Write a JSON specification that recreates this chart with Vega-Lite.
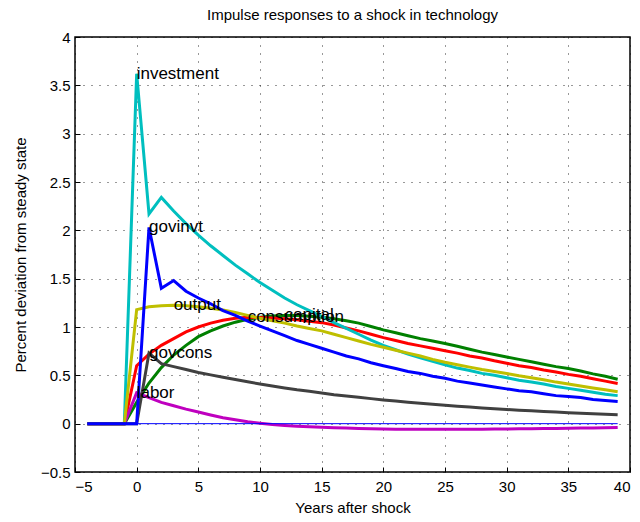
{
  "$schema": "https://vega.github.io/schema/vega-lite/v6.json",
  "width": 555,
  "height": 435,
  "autosize": {"type": "none"},
  "padding": {"left": 75, "top": 37, "right": 10, "bottom": 50},
  "background": "white",
  "title": {"text": "Impulse responses to a shock in technology", "fontSize": 15, "fontWeight": "normal", "font": "Liberation Sans", "color": "black", "offset": 7},
  "config": {
    "view": {"stroke": "black", "strokeWidth": 1.5},
    "axis": {
      "labelFont": "Liberation Sans", "labelFontSize": 15, "labelColor": "black",
      "titleFont": "Liberation Sans", "titleFontSize": 15, "titleFontWeight": "normal", "titleColor": "black",
      "domain": false, "grid": true, "gridColor": "black", "gridDash": [1, 7], "gridOpacity": 0.8, "gridWidth": 1,
      "ticks": true, "tickColor": "black", "tickSize": -5, "tickWidth": 1
    }
  },
  "datasets": {
    "irf": [
      {"t": -4, "capital": 0, "consumption": 0, "investment": 0, "labor": 0, "output": 0, "govcons": 0, "govinvt": 0},
      {"t": -3, "capital": 0, "consumption": 0, "investment": 0, "labor": 0, "output": 0, "govcons": 0, "govinvt": 0},
      {"t": -2, "capital": 0, "consumption": 0, "investment": 0, "labor": 0, "output": 0, "govcons": 0, "govinvt": 0},
      {"t": -1, "capital": 0, "consumption": 0, "investment": 0, "labor": 0, "output": 0, "govcons": 0, "govinvt": 0},
      {"t": 0, "capital": 0.22, "consumption": 0.6, "investment": 3.62, "labor": 0.32, "output": 1.18, "govcons": 0, "govinvt": 0},
      {"t": 1, "capital": 0.42, "consumption": 0.72, "investment": 2.17, "labor": 0.27, "output": 1.21, "govcons": 0.73, "govinvt": 2.03},
      {"t": 2, "capital": 0.58, "consumption": 0.81, "investment": 2.34, "labor": 0.22, "output": 1.22, "govcons": 0.62, "govinvt": 1.4},
      {"t": 3, "capital": 0.71, "consumption": 0.88, "investment": 2.2, "labor": 0.185, "output": 1.225, "govcons": 0.59, "govinvt": 1.48},
      {"t": 4, "capital": 0.81, "consumption": 0.95, "investment": 2.07, "labor": 0.15, "output": 1.22, "govcons": 0.56, "govinvt": 1.37},
      {"t": 5, "capital": 0.9, "consumption": 1.0, "investment": 1.95, "labor": 0.12, "output": 1.21, "govcons": 0.53, "govinvt": 1.3},
      {"t": 6, "capital": 0.96, "consumption": 1.04, "investment": 1.84, "labor": 0.09, "output": 1.195, "govcons": 0.505, "govinvt": 1.24},
      {"t": 7, "capital": 1.01, "consumption": 1.07, "investment": 1.74, "labor": 0.062, "output": 1.175, "govcons": 0.48, "govinvt": 1.17},
      {"t": 8, "capital": 1.05, "consumption": 1.09, "investment": 1.64, "labor": 0.04, "output": 1.15, "govcons": 0.456, "govinvt": 1.12},
      {"t": 9, "capital": 1.08, "consumption": 1.1, "investment": 1.55, "labor": 0.02, "output": 1.12, "govcons": 0.433, "govinvt": 1.06},
      {"t": 10, "capital": 1.1, "consumption": 1.098, "investment": 1.46, "labor": 0.005, "output": 1.09, "govcons": 0.41, "govinvt": 1.01},
      {"t": 11, "capital": 1.115, "consumption": 1.093, "investment": 1.38, "labor": -0.008, "output": 1.065, "govcons": 0.39, "govinvt": 0.96},
      {"t": 12, "capital": 1.12, "consumption": 1.085, "investment": 1.3, "labor": -0.018, "output": 1.04, "govcons": 0.37, "govinvt": 0.91},
      {"t": 13, "capital": 1.118, "consumption": 1.075, "investment": 1.23, "labor": -0.026, "output": 1.01, "govcons": 0.35, "govinvt": 0.86},
      {"t": 14, "capital": 1.11, "consumption": 1.06, "investment": 1.17, "labor": -0.032, "output": 0.985, "govcons": 0.335, "govinvt": 0.82},
      {"t": 15, "capital": 1.1, "consumption": 1.045, "investment": 1.11, "labor": -0.037, "output": 0.96, "govcons": 0.318, "govinvt": 0.78},
      {"t": 16, "capital": 1.085, "consumption": 1.02, "investment": 1.045, "labor": -0.042, "output": 0.925, "govcons": 0.3, "govinvt": 0.74},
      {"t": 17, "capital": 1.065, "consumption": 0.99, "investment": 0.985, "labor": -0.046, "output": 0.89, "govcons": 0.287, "govinvt": 0.7},
      {"t": 18, "capital": 1.04, "consumption": 0.96, "investment": 0.925, "labor": -0.05, "output": 0.855, "govcons": 0.273, "govinvt": 0.67},
      {"t": 19, "capital": 1.005, "consumption": 0.925, "investment": 0.865, "labor": -0.053, "output": 0.82, "govcons": 0.259, "govinvt": 0.63},
      {"t": 20, "capital": 0.97, "consumption": 0.89, "investment": 0.81, "labor": -0.055, "output": 0.79, "govcons": 0.246, "govinvt": 0.6},
      {"t": 21, "capital": 0.94, "consumption": 0.86, "investment": 0.765, "labor": -0.057, "output": 0.76, "govcons": 0.234, "govinvt": 0.57},
      {"t": 22, "capital": 0.91, "consumption": 0.83, "investment": 0.72, "labor": -0.058, "output": 0.73, "govcons": 0.222, "govinvt": 0.54},
      {"t": 23, "capital": 0.88, "consumption": 0.805, "investment": 0.68, "labor": -0.059, "output": 0.7, "govcons": 0.211, "govinvt": 0.52},
      {"t": 24, "capital": 0.855, "consumption": 0.78, "investment": 0.645, "labor": -0.059, "output": 0.665, "govcons": 0.2, "govinvt": 0.49},
      {"t": 25, "capital": 0.83, "consumption": 0.755, "investment": 0.61, "labor": -0.059, "output": 0.635, "govcons": 0.19, "govinvt": 0.47},
      {"t": 26, "capital": 0.8, "consumption": 0.73, "investment": 0.575, "labor": -0.059, "output": 0.61, "govcons": 0.181, "govinvt": 0.44},
      {"t": 27, "capital": 0.77, "consumption": 0.7, "investment": 0.55, "labor": -0.058, "output": 0.585, "govcons": 0.172, "govinvt": 0.42},
      {"t": 28, "capital": 0.74, "consumption": 0.68, "investment": 0.52, "labor": -0.057, "output": 0.56, "govcons": 0.163, "govinvt": 0.4},
      {"t": 29, "capital": 0.715, "consumption": 0.65, "investment": 0.5, "labor": -0.056, "output": 0.54, "govcons": 0.155, "govinvt": 0.38},
      {"t": 30, "capital": 0.69, "consumption": 0.625, "investment": 0.475, "labor": -0.055, "output": 0.52, "govcons": 0.147, "govinvt": 0.36},
      {"t": 31, "capital": 0.665, "consumption": 0.6, "investment": 0.45, "labor": -0.053, "output": 0.495, "govcons": 0.14, "govinvt": 0.34},
      {"t": 32, "capital": 0.64, "consumption": 0.58, "investment": 0.43, "labor": -0.052, "output": 0.475, "govcons": 0.133, "govinvt": 0.33},
      {"t": 33, "capital": 0.615, "consumption": 0.555, "investment": 0.41, "labor": -0.05, "output": 0.455, "govcons": 0.126, "govinvt": 0.31},
      {"t": 34, "capital": 0.59, "consumption": 0.535, "investment": 0.385, "labor": -0.049, "output": 0.43, "govcons": 0.12, "govinvt": 0.29},
      {"t": 35, "capital": 0.57, "consumption": 0.51, "investment": 0.365, "labor": -0.047, "output": 0.41, "govcons": 0.114, "govinvt": 0.28},
      {"t": 36, "capital": 0.545, "consumption": 0.49, "investment": 0.345, "labor": -0.045, "output": 0.39, "govcons": 0.108, "govinvt": 0.27},
      {"t": 37, "capital": 0.515, "consumption": 0.465, "investment": 0.325, "labor": -0.044, "output": 0.37, "govcons": 0.103, "govinvt": 0.25},
      {"t": 38, "capital": 0.49, "consumption": 0.44, "investment": 0.305, "labor": -0.042, "output": 0.35, "govcons": 0.098, "govinvt": 0.24},
      {"t": 39, "capital": 0.46, "consumption": 0.415, "investment": 0.29, "labor": -0.04, "output": 0.33, "govcons": 0.093, "govinvt": 0.23}
    ],
    "labels": [
      {"t": 0, "v": 3.62, "name": "investment"},
      {"t": 1, "v": 2.03, "name": "govinvt"},
      {"t": 3, "v": 1.225, "name": "output"},
      {"t": 9, "v": 1.1, "name": "consumption"},
      {"t": 12, "v": 1.12, "name": "capital"},
      {"t": 1, "v": 0.73, "name": "govcons"},
      {"t": 0, "v": 0.32, "name": "labor"}
    ],
    "zero": [
      {"t": -4, "v": 0},
      {"t": 39, "v": 0}
    ]
  },
  "layer": [
    {
      "data": {"name": "irf"},
      "mark": {"type": "line", "color": "#008000", "strokeWidth": 3},
      "encoding": {
        "x": {"field": "t", "type": "quantitative", "scale": {"domain": [-5, 40], "nice": false, "zero": false},
              "axis": {"orient": "bottom", "values": [-5, 0, 5, 10, 15, 20, 25, 30, 35, 40], "title": "Years after shock", "labelPadding": 12, "titlePadding": 6}},
        "y": {"field": "capital", "type": "quantitative", "scale": {"domain": [-0.5, 4], "nice": false, "zero": false},
              "axis": {"orient": "left", "values": [-0.5, 0, 0.5, 1, 1.5, 2, 2.5, 3, 3.5, 4], "format": ".1~f", "title": "Percent deviation from steady state", "labelPadding": 10, "titlePadding": 12}}
      }
    },
    {
      "data": {"name": "irf"},
      "mark": {"type": "line", "color": "#ff0000", "strokeWidth": 3},
      "encoding": {"x": {"field": "t", "type": "quantitative"}, "y": {"field": "consumption", "type": "quantitative"}}
    },
    {
      "data": {"name": "irf"},
      "mark": {"type": "line", "color": "#00bfbf", "strokeWidth": 3},
      "encoding": {"x": {"field": "t", "type": "quantitative"}, "y": {"field": "investment", "type": "quantitative"}}
    },
    {
      "data": {"name": "irf"},
      "mark": {"type": "line", "color": "#bf00bf", "strokeWidth": 3},
      "encoding": {"x": {"field": "t", "type": "quantitative"}, "y": {"field": "labor", "type": "quantitative"}}
    },
    {
      "data": {"name": "irf"},
      "mark": {"type": "line", "color": "#bfbf00", "strokeWidth": 3},
      "encoding": {"x": {"field": "t", "type": "quantitative"}, "y": {"field": "output", "type": "quantitative"}}
    },
    {
      "data": {"name": "irf"},
      "mark": {"type": "line", "color": "#404040", "strokeWidth": 3},
      "encoding": {"x": {"field": "t", "type": "quantitative"}, "y": {"field": "govcons", "type": "quantitative"}}
    },
    {
      "data": {"name": "irf"},
      "mark": {"type": "line", "color": "#0000ff", "strokeWidth": 3},
      "encoding": {"x": {"field": "t", "type": "quantitative"}, "y": {"field": "govinvt", "type": "quantitative"}}
    },
    {
      "data": {"name": "zero"},
      "mark": {"type": "line", "color": "#0000ff", "strokeWidth": 1},
      "encoding": {"x": {"field": "t", "type": "quantitative"}, "y": {"field": "v", "type": "quantitative"}}
    },
    {
      "data": {"name": "labels"},
      "mark": {"type": "text", "align": "left", "baseline": "middle", "font": "Liberation Sans", "fontSize": 17, "color": "black"},
      "encoding": {"x": {"field": "t", "type": "quantitative"}, "y": {"field": "v", "type": "quantitative"}, "text": {"field": "name"}}
    }
  ]
}
